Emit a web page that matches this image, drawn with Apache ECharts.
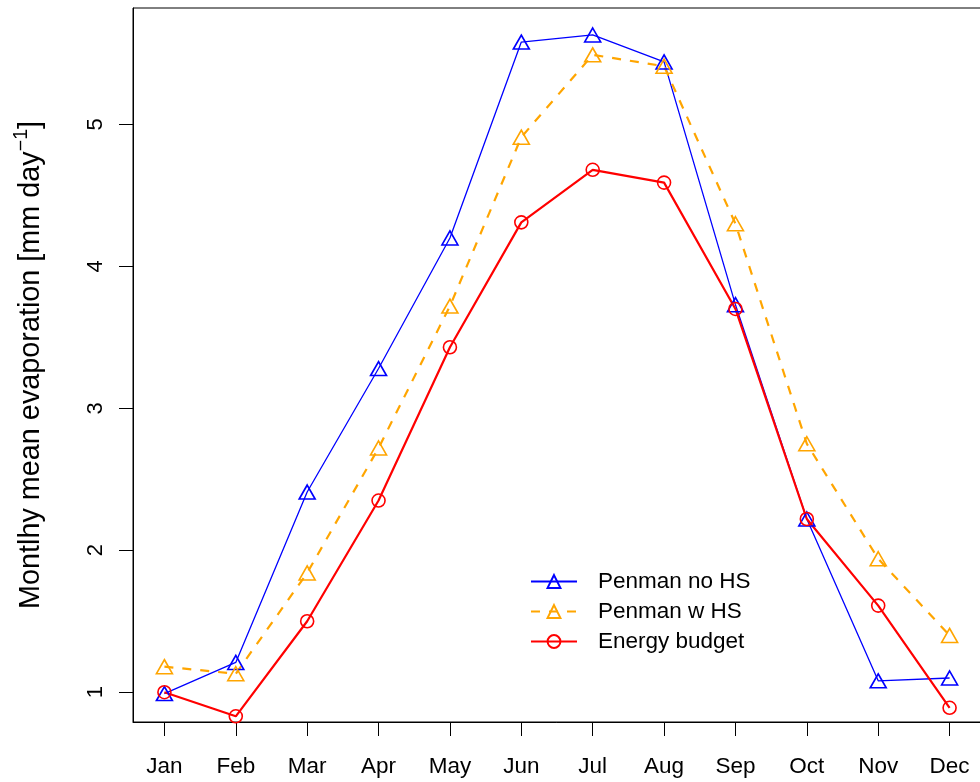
<!DOCTYPE html>
<html>
<head>
<meta charset="utf-8">
<script src="https://cdn.jsdelivr.net/npm/echarts@6/dist/echarts.min.js"></script>
<style>
  html, body { margin: 0; padding: 0; background: #fff; }
  #main { width: 980px; height: 782px; }
</style>
</head>
<body>
<div id="main"></div>
<script>
// month labels on the x axis
const months = ['Jan', 'Feb', 'Mar', 'Apr', 'May', 'Jun', 'Jul', 'Aug', 'Sep', 'Oct', 'Nov', 'Dec'];
const yTicks = [1, 2, 3, 4, 5];
// monthly mean evaporation, mm/day
const penmanNoHS = [0.99, 1.21, 2.41, 3.28, 4.20, 5.58, 5.63, 5.44, 3.73, 2.22, 1.08, 1.10];
const penmanWHS = [1.18, 1.13, 1.84, 2.72, 3.72, 4.91, 5.49, 5.41, 4.30, 2.75, 1.94, 1.40];
const energyBudget = [1.00, 0.83, 1.50, 2.35, 3.43, 4.31, 4.68, 4.59, 3.70, 2.22, 1.61, 0.89];

const font = 'Liberation Sans, Arial, Helvetica, sans-serif';
const monthIdx = months.map((m, i) => i + 1);
const pairs = arr => arr.map((v, i) => [i + 1, v]);

const myChart = echarts.init(document.getElementById('main'));
const option = {
  animation: false,
  textStyle: { fontFamily: font },
  grid: {
    left: 133, top: 8, width: 848, bottom: 60,
    outerBoundsMode: 'none', containLabel: false,
    show: true, borderColor: '#000', borderWidth: 1
  },
  legend: {
    orient: 'vertical',
    left: 525,
    top: 565,
    itemWidth: 46,
    itemHeight: 16,
    itemGap: 7,
    textStyle: { fontSize: 22.5, lineHeight: 20, color: '#000', fontFamily: font, padding: [0, 0, 0, 16] },
    data: ['Penman no HS', 'Penman w HS', 'Energy budget']
  },
  xAxis: {
    type: 'value',
    min: 0.56,
    max: 12.44,
    splitLine: { show: false },
    axisLine: { show: true, lineStyle: { color: '#000', width: 1 } },
    axisTick: { show: true, length: 14, lineStyle: { color: '#000' }, customValues: monthIdx },
    axisLabel: {
      fontSize: 22.5, color: '#000', margin: 33, fontFamily: font,
      customValues: monthIdx,
      formatter: v => months[Math.round(v) - 1] || ''
    }
  },
  yAxis: {
    type: 'value',
    min: 0.79,
    max: 5.82,
    name: '{a|Montlhy mean evaporation [mm day}{s|\u22121}{a|]}',
    nameLocation: 'middle',
    nameRotate: 90,
    nameGap: 87,
    nameTextStyle: {
      color: '#000', fontFamily: font,
      rich: {
        a: { fontSize: 28.8, lineHeight: 34, color: '#000', fontFamily: font, verticalAlign: 'bottom' },
        s: { fontSize: 19.5, lineHeight: 34, color: '#000', fontFamily: font, verticalAlign: 'top' }
      }
    },
    splitLine: { show: false },
    axisLine: { show: true, lineStyle: { color: '#000', width: 1 } },
    axisTick: { show: true, length: 14, lineStyle: { color: '#000' }, customValues: yTicks },
    axisLabel: {
      fontSize: 22, color: '#000', margin: 26, rotate: 90, fontFamily: font,
      customValues: yTicks
    }
  },
  series: [
    {
      name: 'Penman no HS',
      type: 'line',
      data: pairs(penmanNoHS),
      symbol: 'triangle',
      symbolSize: [16, 14],
      color: '#0000FF',
      lineStyle: { color: '#0000FF', width: 1.3 },
      itemStyle: { color: 'rgba(255,255,255,0)', borderColor: '#0000FF', borderWidth: 1.6 }
    },
    {
      name: 'Penman w HS',
      type: 'line',
      data: pairs(penmanWHS),
      symbol: 'triangle',
      symbolSize: [16, 14],
      color: '#FFA500',
      lineStyle: { color: '#FFA500', width: 2.2, type: [9, 9] },
      itemStyle: { color: 'rgba(255,255,255,0)', borderColor: '#FFA500', borderWidth: 1.6 }
    },
    {
      name: 'Energy budget',
      type: 'line',
      data: pairs(energyBudget),
      symbol: 'circle',
      symbolSize: 13,
      color: '#FF0000',
      lineStyle: { color: '#FF0000', width: 2.2 },
      itemStyle: { color: 'rgba(255,255,255,0)', borderColor: '#FF0000', borderWidth: 1.6 }
    }
  ]
};
myChart.setOption(option);
</script>
</body>
</html>
